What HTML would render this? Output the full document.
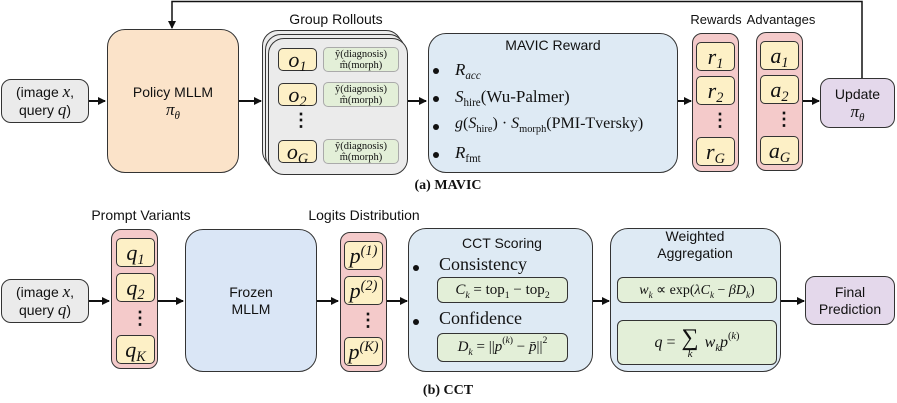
<!DOCTYPE html>
<html><head><meta charset="utf-8"><style>
*{box-sizing:border-box;margin:0;padding:0}
body{width:897px;height:403px;background:#fff;position:relative;overflow:hidden;font-family:"Liberation Sans",sans-serif;color:#111}
.b{position:absolute;border:1.5px solid #333;border-radius:10px;display:flex;align-items:center;justify-content:center;text-align:center;flex-direction:column;font-size:14px;line-height:17px}
.t{position:absolute;font-size:14px;white-space:nowrap;transform:translateX(-50%)}
.m{font-family:"Liberation Serif",serif;font-style:italic;font-size:17px}
.y{background:#fdf0c6;border-radius:5px;border:1.3px solid #333;font-family:"Liberation Serif",serif;font-style:italic;font-size:22px;line-height:20px}
.y span{white-space:nowrap}
.g{position:absolute;background:#e3efd8;border:1px solid #aaa;border-radius:5px;font-family:"Liberation Serif",serif;font-size:10.5px;line-height:11px;text-align:center;display:flex;flex-direction:column;justify-content:center}
.gb{position:absolute;background:#e3efd8;border:1.3px solid #333;border-radius:6px;font-family:"Liberation Serif",serif;font-size:15px;display:flex;align-items:center;justify-content:center;white-space:nowrap}
.dots{position:absolute;font-size:18px;font-weight:bold;line-height:6px;text-align:center}
.bul{position:absolute;width:6px;height:6px;border-radius:50%;background:#111}
.it{position:absolute;font-family:"Liberation Serif",serif;font-size:17px;white-space:nowrap}
sub{font-size:65%;vertical-align:-4px;line-height:0}
sup{font-size:65%;vertical-align:8px;line-height:0}
.cap{position:absolute;font-family:"Liberation Serif",serif;font-weight:bold;font-size:14px;transform:translateX(-50%)}
</style></head><body>
<svg width="897" height="403" style="position:absolute;left:0;top:0">
<defs><marker id="a" markerWidth="8" markerHeight="8" refX="7" refY="4" orient="auto" markerUnits="userSpaceOnUse"><path d="M0,0 L8,4 L0,8 z" fill="#111"/></marker></defs>
<g stroke="#111" stroke-width="2" fill="none">
<line x1="89" y1="101" x2="105" y2="101" marker-end="url(#a)"/>
<line x1="239" y1="101" x2="261" y2="101" marker-end="url(#a)"/>
<line x1="408" y1="101" x2="426" y2="101" marker-end="url(#a)"/>
<line x1="678" y1="101" x2="691" y2="101" marker-end="url(#a)"/>
<line x1="803" y1="101" x2="819" y2="101" marker-end="url(#a)"/>
<polyline points="862,78 862,1.5 172,1.5 172,28" marker-end="url(#a)" stroke-width="1.5"/>
<line x1="89" y1="301" x2="109" y2="301" marker-end="url(#a)"/>
<line x1="158" y1="301" x2="183" y2="301" marker-end="url(#a)"/>
<line x1="317" y1="301" x2="338" y2="301" marker-end="url(#a)"/>
<line x1="387" y1="301" x2="407" y2="301" marker-end="url(#a)"/>
<line x1="593" y1="301" x2="609" y2="301" marker-end="url(#a)"/>
<line x1="781" y1="301" x2="804" y2="301" marker-end="url(#a)"/>
</g></svg>

<!-- top -->
<div class="b" style="left:1px;top:79px;width:88px;height:44px;background:#ebebeb">
<div>(image <span class="m">x</span>,</div><div>query <span class="m">q</span>)</div></div>
<div class="b" style="left:107px;top:29px;width:132px;height:144px;background:#fbe3c9;border-radius:18px">
<div>Policy MLLM</div><div class="m">π<sub>θ</sub></div></div>

<div class="t" style="left:336px;top:11px">Group Rollouts</div>
<div class="b" style="left:262px;top:30px;width:140px;height:137px;background:#ebebeb;border-radius:16px"></div>
<div class="b" style="left:265px;top:34px;width:140px;height:137px;background:#ebebeb;border-radius:16px"></div>
<div class="b" style="left:268px;top:38px;width:140px;height:137px;background:#ebebeb;border-radius:16px"></div>
<div class="b y" style="left:278px;top:48px;width:39px;height:23px"><span>o<sub>1</sub></span></div>
<div class="b y" style="left:278px;top:83px;width:39px;height:23px"><span>o<sub>2</sub></span></div>
<div class="b y" style="left:278px;top:140px;width:39px;height:23px"><span>o<sub>G</sub></span></div>
<div class="dots" style="left:292px;top:117px;width:10px">⋮</div>
<div class="g" style="left:323px;top:47px;width:76px;height:25px"><div>ŷ(diagnosis)</div><div>m̂(morph)</div></div>
<div class="g" style="left:323px;top:82px;width:76px;height:25px"><div>ŷ(diagnosis)</div><div>m̂(morph)</div></div>
<div class="g" style="left:323px;top:139px;width:76px;height:25px"><div>ŷ(diagnosis)</div><div>m̂(morph)</div></div>

<div class="b" style="left:428px;top:33px;width:250px;height:140px;background:#deeaf4;border-radius:18px"></div>
<div class="t" style="left:553px;top:37px">MAVIC Reward</div>
<div class="bul" style="left:433px;top:68px"></div>
<div class="bul" style="left:433px;top:96px"></div>
<div class="bul" style="left:433px;top:124px"></div>
<div class="bul" style="left:433px;top:152px"></div>
<div class="it" style="left:455px;top:60px"><i>R<sub>acc</sub></i></div>
<div class="it" style="left:455px;top:87px"><i>S</i><sub>hire</sub>(Wu-Palmer)</div>
<div class="it" style="left:455px;top:115px;font-size:16px"><i>g</i>(<i>S</i><sub>hire</sub>) · <i>S</i><sub>morph</sub>(PMI-Tversky)</div>
<div class="it" style="left:455px;top:143px"><i>R</i><sub>fmt</sub></div>

<div class="t" style="left:716px;top:12px;font-size:13px">Rewards</div>
<div class="b" style="left:692px;top:33px;width:47px;height:139px;background:#f4caca"></div>
<div class="b y" style="left:696px;top:42px;width:39px;height:29px"><span>r<sub>1</sub></span></div>
<div class="b y" style="left:696px;top:76px;width:39px;height:29px"><span>r<sub>2</sub></span></div>
<div class="dots" style="left:711px;top:117px;width:10px">⋮</div>
<div class="b y" style="left:696px;top:137px;width:39px;height:29px"><span>r<sub>G</sub></span></div>

<div class="t" style="left:781px;top:12px;font-size:13px">Advantages</div>
<div class="b" style="left:756px;top:32px;width:47px;height:139px;background:#f4caca"></div>
<div class="b y" style="left:760px;top:41px;width:39px;height:29px"><span>a<sub>1</sub></span></div>
<div class="b y" style="left:760px;top:75px;width:39px;height:29px"><span>a<sub>2</sub></span></div>
<div class="dots" style="left:775px;top:116px;width:10px">⋮</div>
<div class="b y" style="left:760px;top:136px;width:39px;height:29px"><span>a<sub>G</sub></span></div>

<div class="b" style="left:820px;top:78px;width:75px;height:50px;background:#e4d8eb"><div>Update</div><div class="m">π<sub>θ</sub></div></div>

<div class="cap" style="left:448px;top:178px">(a) MAVIC</div>

<!-- bottom -->
<div class="b" style="left:1px;top:279px;width:88px;height:44px;background:#ebebeb">
<div>(image <span class="m">x</span>,</div><div>query <span class="m">q</span>)</div></div>

<div class="t" style="left:141px;top:207px">Prompt Variants</div>
<div class="b" style="left:111px;top:229px;width:47px;height:140px;background:#f4caca"></div>
<div class="b y" style="left:116px;top:238px;width:39px;height:29px"><span>q<sub>1</sub></span></div>
<div class="b y" style="left:116px;top:273px;width:39px;height:29px"><span>q<sub>2</sub></span></div>
<div class="dots" style="left:131px;top:315px;width:10px">⋮</div>
<div class="b y" style="left:116px;top:335px;width:39px;height:29px"><span>q<sub>K</sub></span></div>

<div class="b" style="left:185px;top:229px;width:132px;height:143px;background:#dae6f6;border-radius:18px"><div>Frozen</div><div>MLLM</div></div>

<div class="t" style="left:364px;top:207px">Logits Distribution</div>
<div class="b" style="left:340px;top:232px;width:47px;height:140px;background:#f4caca"></div>
<div class="b y" style="left:344px;top:241px;width:39px;height:29px"><span>p<sup>(1)</sup></span></div>
<div class="b y" style="left:344px;top:276px;width:39px;height:29px"><span>p<sup>(2)</sup></span></div>
<div class="dots" style="left:359px;top:317px;width:10px">⋮</div>
<div class="b y" style="left:344px;top:337px;width:39px;height:29px"><span>p<sup>(K)</sup></span></div>

<div class="b" style="left:408px;top:228px;width:185px;height:144px;background:#deeaf4;border-radius:18px"></div>
<div class="t" style="left:502px;top:235px">CCT Scoring</div>
<div class="bul" style="left:413px;top:265px"></div>
<div class="it" style="left:439px;top:254px;font-size:18px">Consistency</div>
<div class="gb" style="left:437px;top:277px;width:131px;height:26px"><span><i>C<sub>k</sub></i> = top<sub>1</sub> − top<sub>2</sub></span></div>
<div class="bul" style="left:413px;top:319px"></div>
<div class="it" style="left:439px;top:308px;font-size:18px">Confidence</div>
<div class="gb" style="left:437px;top:333px;width:131px;height:29px"><span><i>D<sub>k</sub></i> = ||<i>p</i><sup>(<i>k</i>)</sup> − <i>p̄</i>||<sup>2</sup></span></div>

<div class="b" style="left:610px;top:228px;width:171px;height:144px;background:#deeaf4;border-radius:18px"></div>
<div class="t" style="left:695px;top:228px;text-align:center;line-height:17px">Weighted<br>Aggregation</div>
<div class="gb" style="left:617px;top:277px;width:160px;height:26px;font-size:14px"><span><i>w<sub>k</sub></i> ∝ exp(<i>λC<sub>k</sub></i> − <i>βD<sub>k</sub></i>)</span></div>
<div class="gb" style="left:617px;top:320px;width:160px;height:45px;font-size:16px"><span><i>q</i> = </span><span style="display:inline-flex;flex-direction:column;align-items:center;margin:0 6px;line-height:18px"><span style="font-size:24px;line-height:22px">∑</span><i style="font-size:11px;line-height:10px">k</i></span><span><i>w<sub>k</sub>p</i><sup>(<i>k</i>)</sup></span></div>

<div class="b" style="left:805px;top:276px;width:90px;height:49px;background:#e4d8eb"><div>Final</div><div>Prediction</div></div>

<div class="cap" style="left:448px;top:383px">(b) CCT</div>
</body></html>
